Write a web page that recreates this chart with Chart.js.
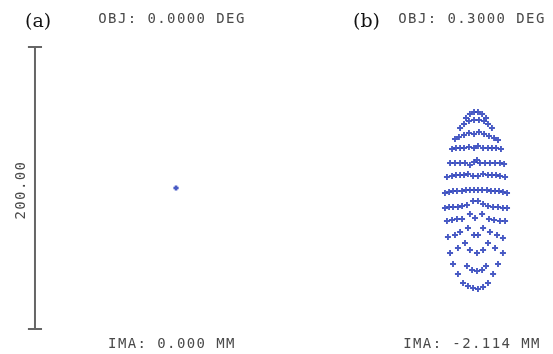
<!DOCTYPE html>
<html>
<head>
<meta charset="utf-8">
<script src="https://cdn.jsdelivr.net/npm/chart.js@4"></script>
<style>
  html, body { margin: 0; padding: 0; background: #fff; }
  #wrap { position: relative; width: 553px; height: 354px; overflow: hidden; }
  #wrap canvas { position: absolute; top: 0; }
  #cA { left: 0; }
  #cB { left: 300px; }
</style>
</head>
<body>
<div id="wrap">
  <canvas id="cA" width="300" height="354"></canvas>
  <canvas id="cB" width="253" height="354"></canvas>
</div>
<script>
// Spot diagram, image-plane coordinates in micrometres (relative to the chief ray)

// (a) on-axis field: every ray lands on one spot
const spotAx = [0];
const spotAy = [0];

// (b) 0.3 deg field: ray intercepts, one pupil row per line
const spotBx = [
  -7.1, -4.3, -1.4, 1.4, 4.3, 7.1,
  -11.3, -8.5, -5.0, -1.4, 2.1, 5.7, 8.5, 11.3,
  -14.9, -12.1, -8.5, -5.0, -1.4, 2.1, 5.7, 9.2, 12.8, 15.6,
  -17.0, -14.2, -11.3, -8.5, -5.0, -1.4, 1.4, 5.0, 8.5, 11.3, 14.2, 17.7,
  -18.4, -14.9, -11.3, -7.8, -4.3, -1.4, 0.7, 2.8, 6.4, 9.9, 13.5, 17.0, 19.9,
  -20.6, -17.0, -14.2, -11.3, -8.5, -5.7, -2.1, 1.4, 5.0, 8.5, 11.3, 14.2, 17.0, 20.6,
  -22.0, -19.1, -16.3, -13.5, -9.9, -7.1, -4.3, -1.4, 1.4, 4.3, 7.8, 10.6, 13.5, 16.3, 19.1, 22.0,
  -22.0, -19.1, -16.3, -12.8, -9.9, -6.4, -2.1, 1.4, 5.0, 8.5, 12.1, 15.6, 19.1, 22.0,
  -20.6, -17.0, -13.5, -9.9, -4.3, -0.7, 4.3, 9.2, 12.8, 17.0, 20.6,
  -19.9, -14.9, -11.3, -5.7, -1.4, 1.4, 5.0, 9.9, 14.9, 19.1,
  -7.8, 8.5, -18.4, -12.8, -4.3, 0.7, 5.0, 13.5, 19.1,
  -16.3, -6.4, 15.6, -2.8, 0.7, 4.3, 7.1,
  -12.8, 12.1,
  -9.2, 8.5, -5.7, -2.1, 1.4, 5.0
];
const spotBy = [
  49.6, 52.5, 53.9, 53.9, 52.5, 49.6,
  42.5, 45.4, 47.5, 48.2, 48.2, 47.5, 45.4, 42.5,
  34.7, 36.2, 37.6, 39.0, 38.3, 39.7, 38.3, 36.9, 35.5, 34.0,
  27.7, 28.4, 28.4, 28.4, 29.1, 28.4, 29.8, 28.4, 28.4, 28.4, 28.4, 27.7,
  17.7, 17.7, 17.7, 17.7, 16.3, 18.4, 19.9, 17.7, 17.7, 17.7, 17.7, 17.7, 17.0,
  7.8, 8.5, 9.2, 9.2, 9.2, 9.9, 8.5, 8.5, 9.9, 9.2, 9.2, 9.2, 8.5, 7.8,
  -3.5, -2.8, -2.1, -2.1, -2.1, -1.4, -1.4, -1.4, -1.4, -1.4, -1.4, -2.1, -2.1, -2.1, -2.8, -3.5,
  -14.2, -13.5, -13.5, -13.5, -12.8, -12.1, -9.2, -9.2, -11.3, -12.8, -13.5, -13.5, -14.2, -14.2,
  -23.4, -22.7, -22.0, -22.0, -18.4, -21.3, -18.4, -22.0, -22.7, -23.4, -23.4,
  -34.7, -33.3, -31.2, -28.4, -33.3, -33.3, -28.4, -31.2, -33.3, -35.5,
  -39.0, -39.0, -46.1, -42.5, -44.0, -46.1, -44.0, -42.5, -46.1,
  -53.9, -55.3, -53.9, -58.1, -58.8, -58.1, -55.3,
  -61.0, -61.0,
  -67.4, -67.4, -69.5, -70.9, -71.6, -70.2
];

// Panel texts
const panelLabels = ['(a)', '(b)'];
const objLabels = ['OBJ: 0.0000 DEG', 'OBJ: 0.3000 DEG'];
const imaLabels = ['IMA: 0.000 MM', 'IMA: -2.114 MM'];

// Scale bar length (micrometres) and its caption
const scaleBarLength = 200;
const scaleBarText = '200.00';

const MARK = 'rgba(52, 72, 190, 0.9)';
const TEXT = '#4a4a4a';
const MONO = '14px "DejaVu Sans Mono", monospace';

function toPoints(xs, ys) {
  return xs.map((x, i) => ({ x: x, y: ys[i] }));
}

// Draws the field / image-height captions and the (a)/(b) tag
const captionPlugin = {
  id: 'captions',
  afterDraw(chart, args, opts) {
    const ctx = chart.ctx;
    ctx.save();
    ctx.fillStyle = '#111';
    ctx.font = '19px "DejaVu Serif", "Liberation Serif", serif';
    ctx.textAlign = 'left';
    ctx.textBaseline = 'alphabetic';
    ctx.fillText(opts.tag, opts.tagX, 27);

    ctx.fillStyle = TEXT;
    ctx.font = MONO;
    ctx.letterSpacing = '1.4px';
    ctx.textAlign = 'center';
    ctx.fillText(opts.obj, opts.textX, 23);
    ctx.fillText(opts.ima, opts.textX, 348);
    ctx.restore();
  }
};

// Vertical scale bar drawn through the panel's own scales
const scaleBarPlugin = {
  id: 'scaleBar',
  afterDraw(chart, args, opts) {
    if (!opts.show) return;
    const ctx = chart.ctx;
    const xs = chart.scales.x, ys = chart.scales.y;
    const px = xs.getPixelForValue(opts.at);
    const top = ys.getPixelForValue(scaleBarLength / 2);
    const bot = ys.getPixelForValue(-scaleBarLength / 2);
    const half = xs.getPixelForValue(opts.at + 5) - px;
    ctx.save();
    ctx.strokeStyle = '#666';
    ctx.lineWidth = 2;
    ctx.beginPath();
    ctx.moveTo(px, top); ctx.lineTo(px, bot);
    ctx.moveTo(px - half, top); ctx.lineTo(px + half, top);
    ctx.moveTo(px - half, bot); ctx.lineTo(px + half, bot);
    ctx.stroke();

    const tx = xs.getPixelForValue(opts.textAt);
    const ty = ys.getPixelForValue(-1.5);
    ctx.translate(tx, ty);
    ctx.rotate(-Math.PI / 2);
    ctx.fillStyle = TEXT;
    ctx.font = MONO;
    ctx.letterSpacing = '1.4px';
    ctx.textAlign = 'center';
    ctx.textBaseline = 'middle';
    ctx.fillText(scaleBarText, 0, 0);
    ctx.restore();
  }
};

function makePanel(id, xs, ys, idx, xMax, bar) {
  return new Chart(document.getElementById(id), {
    type: 'scatter',
    data: {
      datasets: [{
        data: toPoints(xs, ys),
        pointStyle: 'cross',
        pointRadius: idx === 0 ? 2.6 : 3,
        pointBorderWidth: idx === 0 ? 2.6 : 1.9,
        borderColor: MARK,
        backgroundColor: MARK,
        showLine: false
      }]
    },
    options: {
      responsive: false,
      devicePixelRatio: 1,
      animation: false,
      layout: { padding: 0, autoPadding: false },
      scales: {
        x: { type: 'linear', min: -124.8, max: xMax, display: false },
        y: { type: 'linear', min: -117.7, max: 133.3, display: false }
      },
      plugins: {
        legend: { display: false },
        tooltip: { enabled: false },
        captions: {
          tag: panelLabels[idx],
          tagX: idx === 0 ? 25 : 53,
          obj: objLabels[idx],
          ima: imaLabels[idx],
          textX: 172
        },
        scaleBar: { show: bar, at: -100, textAt: -110 }
      }
    },
    plugins: [captionPlugin, scaleBarPlugin]
  });
}

makePanel('cA', spotAx, spotAy, 0, 87.9, true);
makePanel('cB', spotBx, spotBy, 1, 54.6, false);
</script>
</body>
</html>
